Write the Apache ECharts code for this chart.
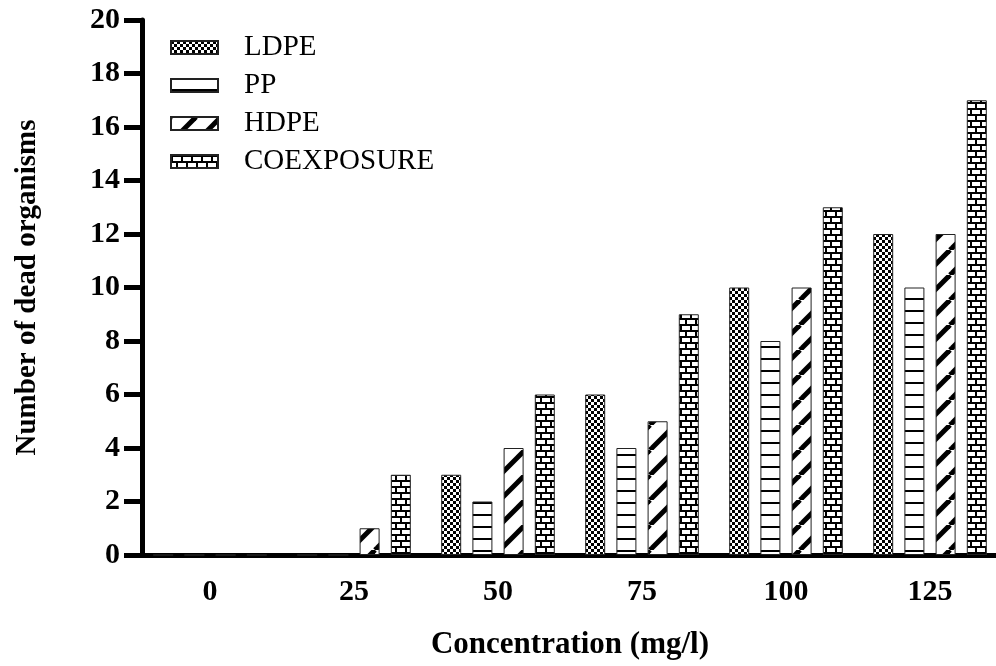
<!DOCTYPE html>
<html>
<head>
<meta charset="utf-8">
<script src="https://cdn.jsdelivr.net/npm/echarts@6/dist/echarts.min.js"></script>
<style>
  html, body { margin: 0; padding: 0; background: #fff; }
  #chart { width: 996px; height: 666px; }
</style>
</head>
<body>
<div id="chart"></div>
<script>
// Concentration levels (mg/l)
const categories = ['0', '25', '50', '75', '100', '125'];
// Dead organisms per treatment
const ldpe = [0, 0, 3, 6, 10, 12];
const pp = [0, 0, 2, 4, 8, 10];
const hdpe = [0, 1, 4, 5, 10, 12];
const coexposure = [0, 3, 6, 9, 13, 17];
const yTicks = { min: 0, max: 20, interval: 2 };

const FONT = "'Liberation Serif', 'Times New Roman', serif";

function tile(w, h, draw) {
  const c = document.createElement('canvas');
  c.width = w; c.height = h;
  const ctx = c.getContext('2d');
  ctx.fillStyle = '#fff';
  ctx.fillRect(0, 0, w, h);
  ctx.fillStyle = '#000';
  ctx.strokeStyle = '#000';
  draw(ctx, w, h);
  return { image: c, repeat: 'repeat' };
}

// Checkerboard fill
const checker = tile(6, 6, (ctx) => {
  ctx.fillRect(0, 0, 3, 3);
  ctx.fillRect(3, 3, 3, 3);
});
// Horizontal rules
const hlines = tile(12, 12, (ctx) => {
  ctx.fillRect(0, 10, 12, 2);
});
// Thick diagonal stripes
const diag = tile(25, 25, (ctx, w, h) => {
  ctx.lineWidth = 5;
  ctx.lineCap = 'butt';
  for (const dx of [-w, 0, w]) {
    ctx.beginPath();
    ctx.moveTo(dx, h);
    ctx.lineTo(dx + w, 0);
    ctx.stroke();
  }
});
// Brick fill
const brick = tile(20, 12, (ctx) => {
  ctx.fillRect(0, 0, 20, 2);
  ctx.fillRect(0, 6, 20, 2);
  ctx.fillRect(0, 0, 2, 6);
  ctx.fillRect(10, 0, 2, 6);
  ctx.fillRect(5, 6, 2, 6);
  ctx.fillRect(15, 6, 2, 6);
});

function barSeries(name, data, fill) {
  return {
    name: name,
    type: 'bar',
    data: data,
    barWidth: 20,
    barGap: '56%',
    itemStyle: { color: fill, borderColor: '#222', borderWidth: 1 },
    emphasis: { disabled: true }
  };
}

const chart = echarts.init(document.getElementById('chart'), null, { renderer: 'canvas' });
chart.setOption({
  animation: false,
  backgroundColor: '#fff',
  grid: { left: 138, top: 20, width: 864, height: 535, containLabel: false, outerBoundsMode: 'none' },
  legend: {
    orient: 'vertical',
    left: 165,
    top: 28,
    itemWidth: 47,
    itemHeight: 13,
    itemGap: 9,
    icon: 'rect',
    textStyle: { fontFamily: FONT, fontSize: 29, color: '#000', padding: [0, 0, 0, 21], lineHeight: 29 },
    data: ['LDPE', 'PP', 'HDPE', 'COEXPOSURE']
  },
  xAxis: {
    type: 'category',
    data: categories,
    name: 'Concentration (mg/l)',
    nameLocation: 'middle',
    nameGap: 74,
    nameTextStyle: { fontFamily: FONT, fontSize: 31, fontWeight: 'bold', color: '#000' },
    axisLine: { lineStyle: { color: '#000', width: 5 } },
    axisTick: { alignWithLabel: true, length: 17, lineStyle: { color: '#000', width: 5 } },
    axisLabel: { fontFamily: FONT, fontSize: 30, fontWeight: 'bold', color: '#000', margin: 22 },
    splitLine: { show: false }
  },
  yAxis: {
    type: 'value',
    min: yTicks.min,
    max: yTicks.max,
    interval: yTicks.interval,
    offset: -4,
    name: 'Number of dead organisms',
    nameLocation: 'middle',
    nameGap: 100,
    nameTextStyle: { fontFamily: FONT, fontSize: 29, fontWeight: 'bold', color: '#000' },
    axisLine: { show: true, lineStyle: { color: '#000', width: 5 } },
    axisTick: { show: true, length: 18, lineStyle: { color: '#000', width: 5 } },
    axisLabel: { fontFamily: FONT, fontSize: 30, fontWeight: 'bold', color: '#000', margin: 22 },
    splitLine: { show: false }
  },
  series: [
    barSeries('LDPE', ldpe, checker),
    barSeries('PP', pp, hlines),
    barSeries('HDPE', hdpe, diag),
    barSeries('COEXPOSURE', coexposure, brick)
  ]
});
</script>
</body>
</html>
